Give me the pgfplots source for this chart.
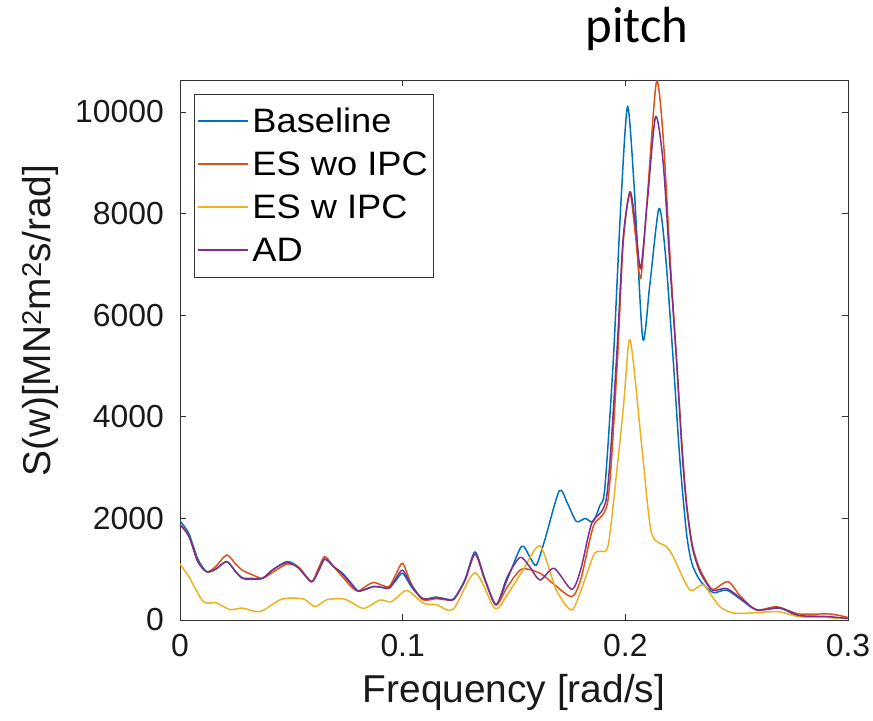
\documentclass[border=0pt]{standalone}
\usepackage{fontspec}
\setmainfont{Liberation Sans}
\newfontfamily\titlefont{Carlito}
\newfontfamily\legfont{Liberation Sans}[FakeStretch=1.07]
\usepackage{pgfplots}
\pgfplotsset{compat=1.18}
\definecolor{mblue}{rgb}{0,0.447,0.741}
\definecolor{mred}{rgb}{0.85,0.325,0.098}
\definecolor{myellow}{rgb}{0.929,0.694,0.125}
\definecolor{mpurple}{rgb}{0.494,0.184,0.556}
\begin{document}
\begin{tikzpicture}
\path[use as bounding box] (-180bp,-101bp) rectangle (693bp,620bp);
\begin{axis}[
  at={(0,0)}, anchor=south west,
  scale only axis, width=668bp, height=540bp,
  xmin=0, xmax=0.3, ymin=0, ymax=10630,
  xtick={0,0.1,0.2,0.3}, ytick={0,2000,4000,6000,8000,10000},
  scaled ticks=false,
  /pgf/number format/assume math mode=true,
  /pgf/number format/set thousands separator={},
  tick align=inside,
  major tick length=6bp,
  axis line style={draw=black!80, line width=0.9pt},
  tick style={draw=black!80, line width=0.9pt},
  xticklabel style={font=\fontsize{32}{36}\selectfont, inner sep=0pt, anchor=north, yshift=-14bp, text=black!90},
  yticklabel style={font=\fontsize{32}{36}\selectfont, inner sep=0pt, anchor=east, xshift=-16bp, text=black!90},
  xlabel={Frequency [rad/s]},
  ylabel={S(w)[MN\textsuperscript{2}m\textsuperscript{2}s/rad]},
  xlabel style={font=\fontsize{39}{44}\selectfont, at={(axis description cs:0.5,-0.152)}, anchor=base, inner sep=0pt, text=black!90},
  ylabel style={font=\fontsize{39}{44}\selectfont, at={(axis description cs:-0.2096,0.554)}, anchor=center, inner sep=0pt, text=black!90},
  legend style={at={(axis description cs:0.021,0.974)}, anchor=north west,
    draw=black!80, line width=0.9pt, fill=white,
    font=\legfont\fontsize{34}{38}\selectfont, inner xsep=3bp, inner ysep=11bp,
    nodes={inner xsep=3bp, inner ysep=0pt, text height=27bp, text depth=5bp},
    row sep=11bp},
  legend cell align=left,
  legend image code/.code={\draw[#1, line width=2pt] (0bp,0bp) -- (50bp,0bp);},
  every axis plot/.append style={line width=1.5pt, smooth, tension=0.45},
]
\addplot[mblue] coordinates {
(0.000,1950)(0.004,1700)(0.008,1200)(0.012,950)(0.016,1000)(0.021,1150)(0.025,950)(0.028,820)(0.032,800)(0.037,820)(0.042,1000)(0.048,1150)(0.053,1050)(0.059,760)(0.062,950)(0.065,1200)(0.069,1050)(0.073,920)(0.077,720)(0.080,570)(0.084,620)(0.087,660)(0.091,640)(0.094,630)(0.097,780)(0.100,920)(0.104,650)(0.109,420)(0.115,450)(0.119,420)(0.123,420)(0.128,800)(0.1325,1340)(0.137,800)(0.142,300)(0.147,800)(0.1534,1450)(0.157,1250)(0.160,1080)(0.164,1600)(0.1703,2540)(0.174,2300)(0.178,1940)(0.182,2000)(0.1855,1930)(0.1885,2250)(0.1908,2600)(0.1946,5118)(0.198,8200)(0.201,10105)(0.204,8500)(0.2078,5545)(0.211,6600)(0.2151,8100)(0.218,7200)(0.2215,5118)(0.2245,3150)(0.2275,1700)(0.230,1100)(0.234,750)(0.2395,540)(0.2455,590)(0.252,400)(0.259,200)(0.2694,230)(0.278,80)(0.290,60)(0.300,30)
};
\addlegendentry{Baseline}
\addplot[mred] coordinates {
(0.000,1880)(0.004,1650)(0.008,1150)(0.012,950)(0.016,1050)(0.021,1280)(0.025,1100)(0.028,980)(0.032,900)(0.037,820)(0.042,950)(0.048,1100)(0.053,1050)(0.059,760)(0.062,1000)(0.065,1250)(0.069,1050)(0.073,850)(0.077,650)(0.080,570)(0.084,680)(0.087,740)(0.091,680)(0.094,660)(0.097,900)(0.100,1115)(0.104,700)(0.109,400)(0.115,420)(0.119,400)(0.123,410)(0.128,780)(0.1325,1300)(0.137,780)(0.142,300)(0.147,650)(0.1534,1000)(0.1617,920)(0.168,700)(0.1759,460)(0.180,800)(0.1856,1840)(0.1922,2362)(0.1963,5000)(0.199,7400)(0.202,8400)(0.2045,7600)(0.2069,6720)(0.210,8400)(0.214,10600)(0.217,9500)(0.220,7200)(0.223,5118)(0.2255,3400)(0.2275,2300)(0.230,1500)(0.233,1050)(0.2365,750)(0.2395,600)(0.2462,755)(0.252,450)(0.259,200)(0.268,260)(0.278,120)(0.2919,118)(0.300,50)
};
\addlegendentry{ES wo IPC}
\addplot[myellow] coordinates {
(0.000,1100)(0.004,850)(0.0105,360)(0.016,340)(0.0225,205)(0.028,235)(0.036,165)(0.0457,410)(0.0554,415)(0.0606,262)(0.066,400)(0.074,410)(0.0823,230)(0.0898,394)(0.095,360)(0.1018,580)(0.1093,330)(0.1153,300)(0.1227,210)(0.1325,930)(0.1414,230)(0.147,500)(0.154,980)(0.1617,1457)(0.169,590)(0.176,197)(0.181,700)(0.1863,1320)(0.1916,1378)(0.1938,1968)(0.199,4134)(0.2016,5480)(0.2035,5118)(0.208,3150)(0.2118,1706)(0.2185,1443)(0.2215,1246)(0.229,590)(0.235,690)(0.2425,262)(0.250,130)(0.268,165)(0.278,65)(0.290,50)(0.300,30)
};
\addlegendentry{ES w IPC}
\addplot[mpurple] coordinates {
(0.000,1880)(0.004,1650)(0.008,1150)(0.012,950)(0.016,1000)(0.021,1150)(0.025,950)(0.028,830)(0.032,820)(0.037,820)(0.042,1000)(0.048,1130)(0.053,1030)(0.059,750)(0.062,950)(0.065,1200)(0.069,1050)(0.073,900)(0.077,700)(0.080,570)(0.084,610)(0.087,660)(0.091,640)(0.094,630)(0.097,820)(0.100,980)(0.104,680)(0.109,420)(0.115,440)(0.119,410)(0.123,410)(0.128,780)(0.1325,1300)(0.137,780)(0.142,300)(0.147,850)(0.1527,1234)(0.157,1050)(0.1617,787)(0.168,1017)(0.1759,604)(0.180,1000)(0.1849,1903)(0.1916,2427)(0.196,5118)(0.199,7500)(0.2021,8430)(0.2045,7800)(0.2069,6920)(0.210,8300)(0.2136,9908)(0.217,9000)(0.220,7000)(0.223,5118)(0.2255,3300)(0.2275,2250)(0.230,1450)(0.233,1000)(0.2365,720)(0.2395,580)(0.2455,620)(0.252,420)(0.259,200)(0.2694,240)(0.278,90)(0.290,70)(0.300,30)
};
\addlegendentry{AD}
\end{axis}
\node[font=\titlefont\fontsize{51}{58}\selectfont, anchor=base] at (457bp,577bp) {pitch};
\end{tikzpicture}
\end{document}
